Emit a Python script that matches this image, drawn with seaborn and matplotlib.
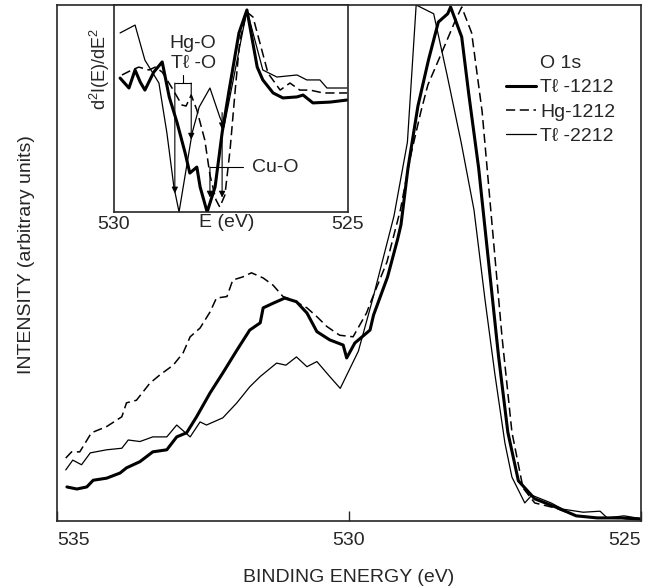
import numpy as np
import pandas as pd
import matplotlib.pyplot as plt
import seaborn as sns

sns.set_style("ticks")
plt.rcParams['font.family'] = ['Liberation Sans', 'DejaVu Sans']
plt.rcParams['mathtext.default'] = 'regular'

TL = "T\u2113"
FS = 14

# ---- main O 1s spectra (binding energy in eV, intensity in arb. units) ----
e_tl1212 = [534.83, 534.66, 534.49, 534.38, 534.15, 533.92, 533.81, 533.58, 533.36, 533.12,
            532.95, 532.78, 532.61, 532.38, 532.16, 531.92, 531.70, 531.52, 531.47, 531.30,
            531.10, 530.90, 530.72, 530.55, 530.33, 530.10, 530.04, 529.90, 529.64, 529.58,
            529.34, 529.17, 529.11, 528.99, 528.82, 528.64, 528.47, 528.31, 528.26, 528.07,
            527.95, 527.78, 527.61, 527.44, 527.28, 527.10, 526.82, 526.46, 526.11, 525.75,
            525.36, 525.02]
i_tl1212 = [6.6, 6.2, 6.6, 7.9, 8.3, 9.3, 10.3, 11.5, 13.4, 13.8,
            16.3, 17.1, 20.2, 24.8, 28.7, 33.1, 37.0, 38.4, 41.3, 42.2,
            43.2, 42.5, 40.3, 36.7, 35.1, 34.1, 31.6, 34.5, 37.0, 39.9,
            47.3, 54.5, 57.4, 68.4, 80.4, 89.3, 96.7, 98.3, 99.6, 93.8,
            82.8, 68.4, 50.2, 32.0, 17.2, 7.8, 4.3, 2.7, 1.0, 0.6,
            0.6, 0.4]

e_hg1212 = [534.85, 534.75, 534.61, 534.41, 534.15, 533.89, 533.81, 533.64, 533.41, 533.24,
            533.01, 532.84, 532.72, 532.55, 532.38, 532.27, 532.09, 531.99, 531.82, 531.67,
            531.47, 531.30, 531.13, 530.96, 530.72, 530.55, 530.38, 530.16, 529.93, 529.70,
            529.64, 529.35, 529.12, 528.95, 528.77, 528.65, 528.43, 528.19, 528.07, 527.90,
            527.72, 527.55, 527.38, 527.21, 527.02, 526.82, 526.46, 526.11, 525.70, 525.02]
i_hg1212 = [12.2, 13.4, 13.4, 17.1, 18.3, 20.2, 22.9, 23.4, 26.7, 28.3,
            30.2, 32.6, 35.7, 37.4, 40.5, 43.2, 43.5, 46.7, 47.3, 48.1,
            47.1, 45.7, 43.5, 42.8, 41.3, 39.6, 37.7, 36.0, 35.7, 40.3,
            42.1, 50.2, 60.3, 70.5, 79.3, 84.5, 90.3, 96.7, 99.6, 94.6,
            79.3, 57.4, 35.7, 17.2, 6.4, 3.5, 2.5, 1.0, 0.6, 0.4]

e_tl2212 = [534.85, 534.73, 534.58, 534.43, 534.15, 533.89, 533.78, 533.58, 533.36, 533.12,
            532.95, 532.72, 532.55, 532.44, 532.16, 531.92, 531.70, 531.52, 531.24, 531.08,
            530.90, 530.72, 530.55, 530.33, 530.15, 529.84, 529.59, 529.23, 529.00, 528.85,
            528.55, 528.32, 528.08, 527.86, 527.67, 527.50, 527.33, 527.21, 526.99, 526.87,
            526.54, 526.34, 525.99, 525.70, 525.58, 525.29, 525.02]
i_tl2212 = [9.9, 11.8, 10.9, 13.2, 13.8, 14.1, 15.7, 15.4, 16.3, 16.3,
            18.6, 16.3, 19.2, 18.6, 20.0, 22.9, 26.0, 28.0, 30.6, 30.2,
            31.8, 29.9, 30.9, 28.0, 25.7, 32.9, 43.2, 59.1, 73.4, 100.0,
            98.3, 86.4, 73.4, 60.3, 42.8, 28.3, 15.1, 8.5, 3.5, 5.0,
            3.5, 2.3, 1.7, 1.9, 0.6, 1.0, 0.5]

# ---- inset: second derivative d2I/dE2 (arb. units) ----
ein_tl1212 = [529.87, 529.68, 529.55, 529.44, 529.34, 529.15, 528.97, 528.82, 528.65, 528.48,
              528.38, 528.23, 528.16, 528.01, 527.84, 527.69, 527.54, 527.33, 527.16, 526.94,
              526.82, 526.60, 526.39, 526.09, 525.96, 525.75, 525.38, 525.02]
din_tl1212 = [64.7, 59.9, 68.6, 62.8, 58.9, 67.6, 72.5, 55.6, 43.0, 28.5,
              18.8, 21.7, 12.1, 0.0, 12.1, 38.2, 58.9, 86.5, 97.6, 70.0,
              63.8, 57.5, 55.1, 55.6, 56.5, 52.7, 53.1, 54.1]

ein_hg1212 = [529.83, 529.62, 529.47, 529.25, 529.12, 528.97, 528.76, 528.55, 528.46, 528.35,
              528.23, 528.06, 527.95, 527.82, 527.74, 527.63, 527.52, 527.41, 527.31, 527.16,
              527.03, 526.71, 526.45, 526.24, 526.03, 525.81, 525.53, 525.02]
din_hg1212 = [66.2, 68.6, 70.0, 68.6, 70.0, 67.6, 59.9, 51.7, 51.2, 56.5,
              49.3, 34.8, 17.9, 5.8, 2.4, 8.2, 30.0, 58.9, 83.1, 96.6,
              94.2, 67.1, 58.9, 62.3, 58.9, 58.9, 57.5, 57.5]

ein_tl2212 = [529.87, 529.55, 529.34, 529.04, 528.87, 528.72, 528.61, 528.33, 528.18, 527.95,
              527.74, 527.65, 527.41, 527.16, 526.82, 526.52, 526.09, 525.88, 525.60, 525.45,
              525.02]
din_tl2212 = [86.5, 90.3, 73.4, 62.3, 38.2, 12.1, 0.0, 38.2, 50.7, 59.9,
              45.9, 41.1, 68.6, 97.6, 68.6, 65.2, 66.2, 63.8, 63.8, 59.9,
              59.9]

main_x_ticks = [535, 530, 525]
inset_x_ticks = [530, 525]


def draw(ax, x, y, lw, dashes=None, label=None):
    df = pd.DataFrame({'E': x, 'I': y})
    ls = (0, dashes) if dashes else '-'
    sns.lineplot(data=df, x='E', y='I', ax=ax, color='black', lw=lw,
                 linestyle=ls, sort=False, estimator=None, label=label)


fig = plt.figure(figsize=(6.59, 5.88), dpi=100)
ax = fig.add_axes([57 / 659, 1 - 521 / 588, 584 / 659, 516 / 588])

draw(ax, e_tl2212, i_tl2212, 0.9, label=TL + " -2212")
draw(ax, e_hg1212, i_hg1212, 1.1, dashes=(6, 3), label="Hg-1212")
draw(ax, e_tl1212, i_tl1212, 2.2, label=TL + " -1212")

ax.set_xlim(535, 525)
ax.set_ylim(0, 100)
ax.set_yticks([])
ax.set_xticks(main_x_ticks)
ax.set_xticklabels([str(t) for t in main_x_ticks])
labels = ax.get_xticklabels()
labels[0].set_ha('left')
labels[-1].set_ha('right')
ax.tick_params(axis='x', direction='in', length=7, width=1, labelsize=FS, pad=8)
for sp in ax.spines.values():
    sp.set_linewidth(1.2)
    sp.set_visible(True)

ax.set_xlabel("BINDING ENERGY (eV)", fontsize=FS, va='center')
ax.xaxis.set_label_coords(0.5, -(577 - 521) / 516)
ax.set_ylabel("INTENSITY (arbitrary units)", fontsize=FS, va='center')
ax.yaxis.set_label_coords((27 - 57) / 584, (521 - 255) / 516)

handles, lbls = ax.get_legend_handles_labels()
order = [2, 1, 0]
leg = ax.legend([handles[i] for i in order], [lbls[i] for i in order],
                title="O 1s", fontsize=FS, title_fontsize=FS, frameon=False,
                loc='upper left', bbox_to_anchor=((506 - 57) / 584, (521 - 55) / 516),
                borderaxespad=0, borderpad=0, handlelength=1.55, handletextpad=0.2,
                labelspacing=0.35)

# ---- inset ----
ax_in = fig.add_axes([114 / 659, 1 - 212 / 588, 234 / 659, 207 / 588])
ax_in.set_facecolor('white')
draw(ax_in, ein_tl2212, din_tl2212, 0.9)
draw(ax_in, ein_hg1212, din_hg1212, 1.1, dashes=(6, 3))
draw(ax_in, ein_tl1212, din_tl1212, 2.2)

ax_in.set_xlim(530, 525)
ax_in.set_ylim(0, 100)
ax_in.set_yticks([])
ax_in.set_xticks(inset_x_ticks)
ax_in.tick_params(axis='x', direction='in', length=0, labelsize=FS, pad=3)
for sp in ax_in.spines.values():
    sp.set_linewidth(1.2)
    sp.set_visible(True)
ax_in.set_xlabel("E (eV)", fontsize=FS, va='top')
ax_in.xaxis.set_label_coords(0.48, -0.012)
ax_in.set_ylabel(r"d$^2$I(E)/dE$^2$", fontsize=13, va='center')
ax_in.yaxis.set_label_coords(-0.058, 0.69)

arrow = dict(arrowstyle='-|>', color='black', lw=0.8, mutation_scale=9, shrinkA=0, shrinkB=0)
ax_in.plot([528.70, 528.35], [62.3, 62.3], color='black', lw=0.8)
ax_in.plot([528.53, 528.53], [62.3, 66.0], color='black', lw=0.8)
ax_in.annotate("", xy=(528.70, 9.0), xytext=(528.70, 62.3), arrowprops=arrow)
ax_in.annotate("", xy=(528.35, 35.0), xytext=(528.35, 62.3), arrowprops=arrow)
ax_in.text(528.31, 81.6, "Hg-O", fontsize=FS, ha='center', va='center')
ax_in.text(528.31, 71.5, TL + " -O", fontsize=FS, ha='center', va='center')

ax_in.plot([527.95, 527.24], [21.7, 21.7], color='black', lw=0.8)
ax_in.annotate("", xy=(527.95, 7.0), xytext=(527.95, 21.7), arrowprops=arrow)
ax_in.annotate("", xy=(527.69, 40.0), xytext=(527.69, 48.0), arrowprops=arrow)
ax_in.annotate("", xy=(527.69, 7.0), xytext=(527.69, 40.0), arrowprops=arrow)
ax_in.text(527.05, 21.7, "Cu-O", fontsize=FS, ha='left', va='center')

fig.savefig("out.png", dpi=100)
